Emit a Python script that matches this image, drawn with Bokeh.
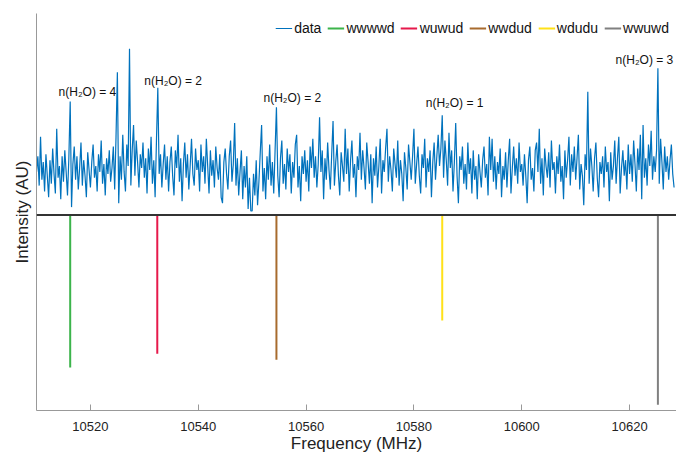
import numpy as np
from bokeh.plotting import figure
from bokeh.models import Span, SingleIntervalTicker, FixedTicker, Range1d, ColumnDataSource
from bokeh.core.properties import value
from bokeh.embed import file_html
from bokeh.resources import INLINE

# ---- data -------------------------------------------------------------
freq_start = 10510.0   # MHz
freq_step = 0.25       # MHz
intensity = [
    0.22, 0.30, 0.15, 0.40, 0.18, 0.27, 0.12, 0.31, 0.20, 0.09, 0.28, 0.16, 0.34, 0.21, 0.11, 0.44, 0.19, 0.25, 0.08, 0.30,
    0.17, 0.33, 0.22, 0.10, 0.29, 0.58, 0.04, 0.26, 0.35, 0.18, 0.30, 0.13, 0.24, 0.37, 0.15, 0.28, 0.20, 0.09, 0.32, 0.23,
    0.14, 0.27, 0.36, 0.19, 0.25, 0.12, 0.31, 0.22, 0.38, 0.16, 0.26, 0.10, 0.29, 0.21, 0.33, 0.17, 0.24, 0.35, 0.13, 0.40,
    0.73, 0.06, 0.30, 0.18, 0.41, 0.22, 0.12, 0.36, 0.25, 0.85, 0.15, 0.33, 0.46, 0.20, 0.38, 0.27, 0.14, 0.31, 0.24, 0.37,
    0.19, 0.29, 0.11, 0.34, 0.23, 0.40, 0.16, 0.28, 0.09, 0.38, 0.65, 0.21, 0.31, 0.14, 0.26, 0.36, 0.18, 0.30, 0.12, 0.27,
    0.35, 0.20, 0.10, 0.33, 0.24, 0.41, 0.17, 0.29, 0.07, 0.26, 0.37, 0.19, 0.31, 0.13, 0.25, 0.39, 0.21, 0.15, 0.34, 0.23,
    0.28, 0.12, 0.36, 0.22, 0.30, 0.16, 0.39, 0.25, 0.11, 0.33, 0.20, 0.28, 0.14, 0.35, 0.24, 0.18, 0.31, 0.09, 0.06, 0.27,
    0.34, 0.21, 0.13, 0.30, 0.38, 0.17, 0.26, 0.47, 0.15, 0.29, 0.10, 0.22, 0.33, 0.08, 0.25, 0.14, 0.30, 0.03, 0.19, 0.02,
    0.02, 0.21, 0.10, 0.28, 0.05, 0.17, 0.32, 0.46, 0.12, 0.24, 0.08, 0.30, 0.18, 0.36, 0.15, 0.27, 0.11, 0.33, 0.55, 0.20,
    0.09, 0.29, 0.38, 0.16, 0.26, 0.13, 0.34, 0.22, 0.31, 0.11, 0.27, 0.19, 0.36, 0.41, 0.14, 0.25, 0.07, 0.30, 0.21, 0.33,
    0.17, 0.28, 0.12, 0.35, 0.24, 0.39, 0.19, 0.30, 0.14, 0.26, 0.50, 0.22, 0.33, 0.08, 0.29, 0.18, 0.37, 0.23, 0.13, 0.31,
    0.48, 0.15, 0.27, 0.36, 0.20, 0.10, 0.32, 0.25, 0.17, 0.44, 0.21, 0.34, 0.12, 0.28, 0.38, 0.19, 0.26, 0.09, 0.30, 0.23,
    0.42, 0.18, 0.33, 0.24, 0.13, 0.37, 0.27, 0.16, 0.31, 0.06, 0.29, 0.20, 0.35, 0.14, 0.25, 0.39, 0.11, 0.28, 0.22, 0.34,
    0.44, 0.17, 0.30, 0.23, 0.12, 0.34, 0.26, 0.19, 0.38, 0.15, 0.28, 0.21, 0.07, 0.32, 0.24, 0.13, 0.36, 0.27, 0.18, 0.30,
    0.44, 0.16, 0.26, 0.35, 0.20, 0.11, 0.31, 0.24, 0.39, 0.14, 0.29, 0.22, 0.33, 0.09, 0.27, 0.37, 0.18, 0.30, 0.41, 0.25,
    0.34, 0.51, 0.19, 0.38, 0.28, 0.15, 0.42, 0.24, 0.33, 0.12, 0.27, 0.47, 0.20, 0.06, 0.30, 0.23, 0.35, 0.16, 0.26, 0.13,
    0.37, 0.21, 0.29, 0.11, 0.33, 0.18, 0.25, 0.08, 0.31, 0.22, 0.14, 0.28, 0.35, 0.19, 0.26, 0.10, 0.40, 0.23, 0.39, 0.17,
    0.30, 0.13, 0.27, 0.21, 0.34, 0.09, 0.25, 0.18, 0.32, 0.14, 0.28, 0.39, 0.11, 0.24, 0.35, 0.20, 0.29, 0.16, 0.37, 0.22,
    0.26, 0.15, 0.31, 0.20, 0.06, 0.28, 0.35, 0.18, 0.24, 0.12, 0.33, 0.37, 0.22, 0.44, 0.16, 0.29, 0.10, 0.34, 0.25, 0.19,
    0.32, 0.14, 0.38, 0.23, 0.27, 0.11, 0.30, 0.21, 0.36, 0.17, 0.25, 0.08, 0.33, 0.19, 0.28, 0.40, 0.15, 0.31, 0.22, 0.35,
    0.18, 0.29, 0.41, 0.13, 0.26, 0.20, 0.05, 0.31, 0.23, 0.63, 0.16, 0.34, 0.25, 0.12, 0.29, 0.37, 0.19, 0.09, 0.27, 0.21,
    0.30, 0.14, 0.35, 0.22, 0.27, 0.07, 0.32, 0.18, 0.25, 0.38, 0.16, 0.29, 0.40, 0.11, 0.24, 0.33, 0.20, 0.28, 0.13, 0.36,
    0.21, 0.31, 0.17, 0.38, 0.26, 0.12, 0.34, 0.23, 0.41, 0.08, 0.46, 0.19, 0.29, 0.15, 0.36, 0.25, 0.43, 0.18, 0.30, 0.22,
    0.33, 0.75, 0.16, 0.39, 0.27, 0.13, 0.35, 0.22, 0.30, 0.18, 0.28, 0.36, 0.21, 0.14,
]
freq = freq_start + freq_step * np.arange(len(intensity))

stick_names = ["wwwwd", "wuwud", "wwdud", "wdudu", "wwuwd"]
stick_freq = [10516.25, 10532.4, 10554.5, 10585.25, 10625.25]
stick_intensity = [-0.78, -0.71, -0.74, -0.54, -0.97]
stick_colors = ["#3cb44b", "#e6194b", "#a86b2e", "#ffe119", "#808080"]

label_text = ["n(H\u2082O) = 4", "n(H\u2082O) = 2", "n(H\u2082O) = 2", "n(H\u2082O) = 1", "n(H\u2082O) = 3"]
label_x = [10514.1, 10530.0, 10552.1, 10582.2, 10617.4]
label_y = [0.63, 0.685, 0.60, 0.57, 0.79]

FONT = "Liberation Sans"

# ---- figure -----------------------------------------------------------
p = figure(width=676, height=455, output_backend="svg", toolbar_location=None,
           x_range=Range1d(10510, 10628.7), y_range=Range1d(-1.0, 1.03),
           min_border_left=36, min_border_right=0, min_border_top=13, min_border_bottom=42)
p.background_fill_color = "white"
p.border_fill_color = "white"
p.outline_line_color = None
p.grid.visible = False

p.line(freq, intensity, line_color="#0072BD", line_width=1.2, legend_label="data")

for name, f, v, c in zip(stick_names, stick_freq, stick_intensity, stick_colors):
    src = ColumnDataSource(dict(x0=[f], y0=[0.0], x1=[f], y1=[v]))
    p.segment(x0="x0", y0="y0", x1="x1", y1="y1", source=src,
              line_color=c, line_width=2, legend_label=name)

p.add_layout(Span(location=0, dimension="width", line_color="#333333", line_width=2))

p.text(x=label_x, y=label_y, text=label_text, text_font=value(FONT),
       text_font_size="12px", text_align="left", text_baseline="middle", text_color="#111111")

# axes
xa = p.xaxis[0]
xa.ticker = SingleIntervalTicker(interval=20)
xa.minor_tick_line_color = None
xa.major_tick_in = 6
xa.major_tick_out = 0
xa.axis_line_color = "#999999"
xa.major_tick_line_color = "#999999"
xa.major_label_text_font = FONT
xa.major_label_text_font_size = "13px"
xa.major_label_text_color = "#222222"
xa.major_label_standoff = 7
xa.axis_label = "Frequency (MHz)"
xa.axis_label_text_font = FONT
xa.axis_label_text_font_size = "17px"
xa.axis_label_text_font_style = "normal"
xa.axis_label_text_color = "#222222"
xa.axis_label_standoff = 0

ya = p.yaxis[0]
ya.ticker = FixedTicker(ticks=[])
ya.minor_tick_line_color = None
ya.major_tick_line_color = None
ya.axis_line_color = "#999999"
ya.axis_label = "Intensity (AU)"
ya.axis_label_text_font = FONT
ya.axis_label_text_font_size = "17px"
ya.axis_label_text_font_style = "normal"
ya.axis_label_text_color = "#222222"
ya.axis_label_standoff = 5

lg = p.legend[0]
lg.orientation = "horizontal"
lg.location = "top_right"
lg.label_text_font = FONT
lg.label_text_font_size = "14px"
lg.label_text_color = "#111111"
lg.glyph_width = 17
lg.glyph_height = 12
lg.label_standoff = 2
lg.spacing = 6
lg.padding = 2
lg.margin = 5
lg.border_line_alpha = 0
lg.background_fill_alpha = 0

open("out.html", "w").write(file_html(p, INLINE))
